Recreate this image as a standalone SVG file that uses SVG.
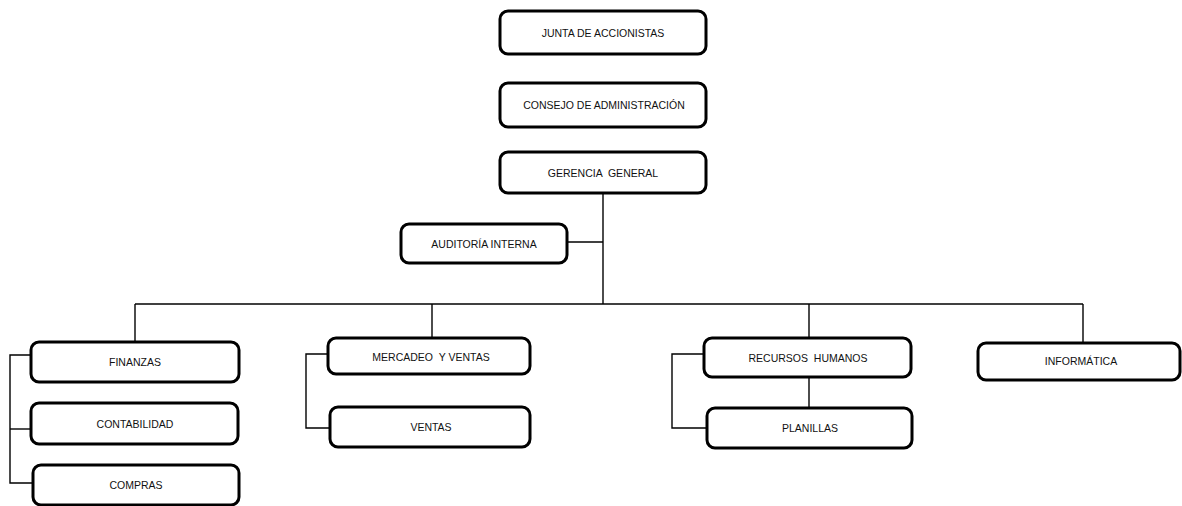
<svg xmlns="http://www.w3.org/2000/svg" width="1182" height="506" viewBox="0 0 1182 506">
<style>
.box{fill:#fff;stroke:#000;stroke-width:3;}
.t{font-family:"Liberation Sans",Arial,sans-serif;font-size:10.5px;fill:#111;text-anchor:middle;white-space:pre;}
.c{fill:none;stroke:#000;stroke-width:1.4;}
</style>
<rect width="1182" height="506" fill="#fff"/>
<g id="connectors">
<line class="c" x1="603" y1="193" x2="603" y2="304"/>
<line class="c" x1="567" y1="242" x2="603" y2="242"/>
<line class="c" x1="135" y1="304" x2="1083" y2="304"/>
<line class="c" x1="135" y1="304" x2="135" y2="342"/>
<line class="c" x1="432" y1="304" x2="432" y2="338"/>
<line class="c" x1="809" y1="304" x2="809" y2="338"/>
<line class="c" x1="1083" y1="304" x2="1083" y2="343"/>
<polyline class="c" points="31,355 10,355 10,483 33,483"/>
<line class="c" x1="10" y1="429" x2="31" y2="429"/>
<polyline class="c" points="328,354 306,354 306,428 330,428"/>
<polyline class="c" points="704,354 672,354 672,428 707,428"/>
<line class="c" x1="809" y1="377" x2="809" y2="408"/>
</g>
<g id="junta"><rect class="box" x="500" y="11" width="206" height="43" rx="8"/><text class="t" x="603" y="37">JUNTA DE ACCIONISTAS</text></g>
<g id="consejo"><rect class="box" x="500" y="83" width="206" height="44" rx="8"/><text class="t" x="604" y="109">CONSEJO DE ADMINISTRACIÓN</text></g>
<g id="gerencia"><rect class="box" x="500" y="152" width="206" height="41" rx="8"/><text class="t" x="603" y="177" xml:space="preserve">GERENCIA  GENERAL</text></g>
<g id="auditoria"><rect class="box" x="401" y="224" width="166" height="39" rx="8"/><text class="t" x="484" y="248">AUDITORÍA INTERNA</text></g>
<g id="finanzas"><rect class="box" x="31" y="342" width="208" height="40" rx="8"/><text class="t" x="135" y="366">FINANZAS</text></g>
<g id="contabilidad"><rect class="box" x="31" y="403" width="207" height="41" rx="8"/><text class="t" x="135" y="428">CONTABILIDAD</text></g>
<g id="compras"><rect class="box" x="33" y="465" width="206" height="40" rx="8"/><text class="t" x="136" y="489">COMPRAS</text></g>
<g id="mercadeo"><rect class="box" x="328" y="338" width="202" height="36" rx="8"/><text class="t" x="431" y="361" xml:space="preserve">MERCADEO  Y VENTAS</text></g>
<g id="ventas"><rect class="box" x="330" y="407" width="200" height="40" rx="8"/><text class="t" x="431" y="431">VENTAS</text></g>
<g id="rrhh"><rect class="box" x="704" y="338" width="207" height="39" rx="8"/><text class="t" x="808" y="362" xml:space="preserve">RECURSOS  HUMANOS</text></g>
<g id="planillas"><rect class="box" x="707" y="408" width="205" height="40" rx="8"/><text class="t" x="810" y="432">PLANILLAS</text></g>
<g id="informatica"><rect class="box" x="978" y="343" width="202" height="37" rx="8"/><text class="t" x="1081" y="365">INFORMÁTICA</text></g>
</svg>
